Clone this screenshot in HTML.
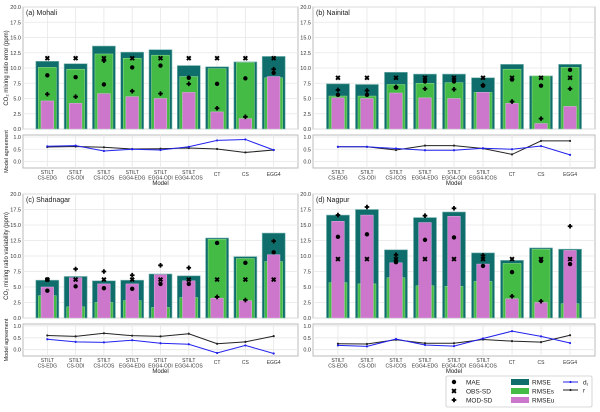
<!DOCTYPE html>
<html><head><meta charset="utf-8">
<style>
body{margin:0;background:#fff;}
svg{display:block;font-family:"Liberation Sans","DejaVu Sans",sans-serif;}
</style></head>
<body>
<svg id="chart" width="600" height="412" viewBox="0 0 600 412" xmlns="http://www.w3.org/2000/svg"></svg>
<script>
const categories = ["STILT\nCS-EDG","STILT\nCS-ODI","STILT\nCS-ICOS","STILT\nEGG4-EDG","STILT\nEGG4-ODI","STILT\nEGG4-ICOS","CT","CS","EGG4"];
const mainTicks = [0,2.5,5,7.5,10,12.5,15,17.5,20];
const mainTickLabels = ["0.0","2.5","5.0","7.5","10.0","12.5","15.0","17.5","20.0"];
const subTicks = [0,0.5,1];
const subTickLabels = ["0.0","0.5","1.0"];
const panelTitles = ["(a) Mohali","(b) Nainital","(c) Shadnagar","(d) Nagpur"];
const rmseA = [11.1,10.7,13.6,12.6,13.0,10.4,10.2,11.0,11.9];
const rmsesA = [10.1,9.8,12.3,11.6,12.1,8.6,9.9,10.9,8.4];
const rmseuA = [4.6,4.2,5.8,5.3,5.0,6.0,2.8,1.7,8.6];
const maeA = [8.8,8.5,7.3,10.1,10.4,8.4,7.4,8.3,9.2];
const obsA = [11.6,11.6,11.6,11.6,11.6,11.6,11.6,11.6,11.6];
const modA = [5.7,5.3,11.2,6.2,5.8,7.4,3.4,2.0,9.8];
const drA = [0.62,0.65,0.43,0.5,0.47,0.6,0.86,0.9,0.47];
const rA = [0.59,0.61,0.58,0.51,0.52,0.55,0.51,0.37,0.47];
const rmseB = [7.4,7.3,9.3,9.0,9.0,8.4,10.6,8.7,10.6];
const rmsesB = [5.4,5.4,7.3,7.5,7.6,6.0,9.8,8.7,10.1];
const rmseuB = [5.1,5.0,5.9,5.1,5.0,6.0,4.2,0.9,3.7];
const maeB = [5.6,5.6,6.8,7.8,7.8,7.1,8.1,7.1,9.7];
const obsB = [8.4,8.4,8.4,8.4,8.4,8.4,8.4,8.4,8.4];
const modB = [6.4,6.3,6.9,6.6,6.5,7.2,4.5,1.7,6.6];
const drB = [0.6,0.6,0.53,0.46,0.46,0.54,0.5,0.63,0.27];
const rB = [0.6,0.6,0.47,0.65,0.65,0.53,0.29,0.84,0.84];
const rmseC = [6.1,6.7,6.0,6.1,7.1,6.8,12.9,9.9,13.7];
const rmsesC = [3.6,1.8,2.5,2.8,1.7,3.3,12.7,9.6,9.1];
const rmseuC = [5.0,6.5,5.5,5.5,7.0,6.0,3.2,2.8,10.2];
const maeC = [4.4,5.1,4.8,4.7,5.5,5.5,12.1,8.9,10.6];
const obsC = [6.2,6.2,6.2,6.2,6.2,6.2,6.2,6.2,6.2];
const modC = [6.2,7.9,7.5,6.9,8.5,8.1,3.4,2.9,12.4];
const drC = [0.44,0.33,0.31,0.4,0.27,0.23,-0.14,0.18,-0.16];
const rC = [0.6,0.56,0.69,0.59,0.56,0.67,0.25,0.33,0.57];
const rmseD = [16.6,17.5,11.0,16.2,17.1,10.5,9.3,11.3,11.1];
const rmsesD = [5.7,5.5,6.5,5.2,5.1,5.9,8.8,11.1,2.3];
const rmseuD = [15.6,16.6,8.9,15.4,16.4,8.7,3.1,2.5,10.9];
const maeD = [13.1,13.5,9.0,12.6,13.0,8.4,7.4,9.2,8.7];
const obsD = [9.5,9.5,9.5,9.5,9.5,9.5,9.5,9.5,9.5];
const modD = [16.6,17.9,10.2,16.5,17.7,10.1,3.5,2.7,14.8];
const drD = [0.18,0.14,0.45,0.2,0.15,0.47,0.78,0.56,0.28];
const rD = [0.25,0.24,0.42,0.27,0.27,0.43,0.36,0.32,0.61];

const svg = document.getElementById('chart');
const NS = 'http://www.w3.org/2000/svg';
function mk(tag, attrs, parent){
  const e = document.createElementNS(NS, tag);
  for (const k in attrs) e.setAttribute(k, attrs[k]);
  (parent||svg).appendChild(e);
  return e;
}
const TEAL='#0f6e6b', GREEN='#44bb44', PINK='#cc77cc';

function marker(g, type, x, y){
  let e;
  if (type==='mae'){ e = mk('circle',{cx:x,cy:y,r:2.2,fill:'#000'},g); }
  else if (type==='obs'){ e = mk('path',{d:`M${x-1.9},${y-1.9}L${x+1.9},${y+1.9}M${x-1.9},${y+1.9}L${x+1.9},${y-1.9}`,stroke:'#000','stroke-width':1.9},g); }
  else { e = mk('path',{d:`M${x-2.3},${y}L${x+2.3},${y}M${x},${y-2.3}L${x},${y+2.3}`,stroke:'#000','stroke-width':1.8},g); }
  return e;
}

const panels = [
  {x0:23,x1:298,mt:7,mb:129,st:135,sb:168,d:[rmseA,rmsesA,rmseuA,maeA,obsA,modA,drA,rA],ylab:'CO₂ mixing ratio error (ppm)'},
  {x0:313,x1:595,mt:7,mb:129,st:135,sb:168,d:[rmseB,rmsesB,rmseuB,maeB,obsB,modB,drB,rB]},
  {x0:23,x1:298,mt:194,mb:318,st:324,sb:356,d:[rmseC,rmsesC,rmseuC,maeC,obsC,modC,drC,rC],ylab:'CO₂ mixing ratio variability (ppm)'},
  {x0:313,x1:595,mt:194,mb:318,st:324,sb:356,d:[rmseD,rmsesD,rmseuD,maeD,obsD,modD,drD,rD]}
];

panels.forEach((p,pi)=>{
  const g = mk('g',{});
  
  
  const xs = i => p.x0 + (p.x1-p.x0)*(i+0.86)/(8+1.72);
  const ym = v => p.mb - (v/20)*(p.mb-p.mt);
  const s0 = p.st+26.5*(p.sb-p.st)/33, s1 = p.st+2*(p.sb-p.st)/33;
  const ys = v => s0 - v*(s0-s1);
  mk('rect',{x:p.x0,y:p.mt,width:p.x1-p.x0,height:p.mb-p.mt,fill:'#fff',stroke:'#bbb','stroke-width':1},g);
  mainTicks.forEach((t,i)=>{
    const y=ym(t);
    mk('line',{x1:p.x0,x2:p.x1,y1:y,y2:y,stroke:'#e6e6e6','stroke-width':0.8},g);
    const tx=mk('text',{x:p.x0-2,y:y+2,'font-size':5.5,'text-anchor':'end',fill:'#333'},g);
    tx.textContent=mainTickLabels[i];
  });
  categories.forEach((c,i)=>mk('line',{x1:xs(i),x2:xs(i),y1:p.mt,y2:p.mb,stroke:'#e6e6e6','stroke-width':0.8},g));
  const [rmse,rmses,rmseu,mae,obs,mod,dr,r]=p.d;
  categories.forEach((c,i)=>{
    const x=xs(i);
    const b1=mk('rect',{x:x-11.5,y:ym(rmse[i]),width:23,height:p.mb-ym(rmse[i]),fill:TEAL,stroke:'#7fb7b4','stroke-width':0.6},g);
     
    const b2=mk('rect',{x:x-9,y:ym(rmses[i]),width:18,height:p.mb-ym(rmses[i]),fill:GREEN,stroke:'#9d9','stroke-width':0.5},g);
     
    const b3=mk('rect',{x:x-6.3,y:ym(rmseu[i]),width:12.6,height:p.mb-ym(rmseu[i]),fill:PINK,stroke:'#e3b3e3','stroke-width':0.5},g);
     
    const m1=marker(g,'mae',x,ym(mae[i]));
     
    const m2=marker(g,'obs',x,ym(obs[i]));
     
    const m3=marker(g,'mod',x,ym(mod[i]));
     
  });
  const tt=mk('text',{x:p.x0+3,y:p.mt+8,'font-size':7,fill:'#222'},g);
  tt.textContent=panelTitles[pi];
   
  if (p.ylab){
    const yl=mk('text',{x:0,y:0,'font-size':6,'text-anchor':'middle',fill:'#222',transform:`translate(8,${(p.mt+p.mb)/2}) rotate(-90)`},g);
    yl.textContent=p.ylab;
     
    const sl=mk('text',{x:0,y:0,'font-size':5.5,'text-anchor':'middle',fill:'#222',transform:`translate(8,${(p.st+p.sb)/2}) rotate(-90)`},g);
    sl.textContent='Model agreement';
     
  }
  mk('rect',{x:p.x0,y:p.st,width:p.x1-p.x0,height:p.sb-p.st,fill:'#fff',stroke:'#bbb','stroke-width':1},g);
  subTicks.forEach((t,i)=>{
    const y=ys(t);
    mk('line',{x1:p.x0,x2:p.x1,y1:y,y2:y,stroke:'#e6e6e6','stroke-width':0.8},g);
    const tx=mk('text',{x:p.x0-2,y:y+2,'font-size':5.5,'text-anchor':'end',fill:'#333'},g);
    tx.textContent=subTickLabels[i];
  });
  categories.forEach((c,i)=>{
    mk('line',{x1:xs(i),x2:xs(i),y1:p.st,y2:p.sb,stroke:'#e6e6e6','stroke-width':0.8},g);
    const lines=c.split('\n');
    lines.forEach((l,j)=>{
      const t=mk('text',{x:xs(i),y:p.sb+(lines.length===1?8:6+j*5.5),'font-size':5,'text-anchor':'middle',fill:'#333'},g);
      t.textContent=l;
    });
  });
  const xl=mk('text',{x:(p.x0+p.x1)/2,y:p.sb+17,'font-size':6,'text-anchor':'middle',fill:'#222'},g);
  xl.textContent='Model';
   
  [[r,'#222','line-r'],[dr,'#2222ee','line-dr']].forEach(([arr,col,nm])=>{
    const pl=mk('polyline',{points:arr.map((v,i)=>xs(i)+','+ys(v)).join(' '),fill:'none',stroke:col,'stroke-width':1},g);
     
    arr.forEach((v,i)=>mk('circle',{cx:xs(i),cy:ys(v),r:1.1,fill:col},g));
  });
});

const lg = mk('g',{});


mk('rect',{x:446,y:376,width:146,height:31,fill:'#fff',stroke:'#ccc','stroke-width':0.8,rx:1.5},lg);
[['mae','MAE'],['obs','OBS-SD'],['mod','MOD-SD']].forEach(([t,l],i)=>{
  const y=382+i*9;
  marker(lg,t,454,y);
  const tx=mk('text',{x:466,y:y+2.5,'font-size':6.5,fill:'#222'},lg); tx.textContent=l;
});
[[TEAL,'RMSE'],[GREEN,'RMSEs'],[PINK,'RMSEu']].forEach(([c,l],i)=>{
  const y=382+i*9;
  mk('rect',{x:511,y:y-3,width:18,height:6,fill:c},lg);
  const tx=mk('text',{x:532,y:y+2.5,'font-size':6.5,fill:'#222'},lg); tx.textContent=l;
});
[['#2222ee','d'],['#222','r']].forEach(([c,l],i)=>{
  const y=382+i*8;
  mk('line',{x1:563,x2:578,y1:y,y2:y,stroke:c,'stroke-width':1},lg);
  mk('circle',{cx:570.5,cy:y,r:1.1,fill:c},lg);
  const tx=mk('text',{x:583,y:y+2.5,'font-size':6.5,fill:'#222'},lg); tx.textContent=l;
  if(i===0){const s=mk('tspan',{'font-size':4.5,dy:1.5},tx); s.textContent='r';}
});
</script>
</body></html>
